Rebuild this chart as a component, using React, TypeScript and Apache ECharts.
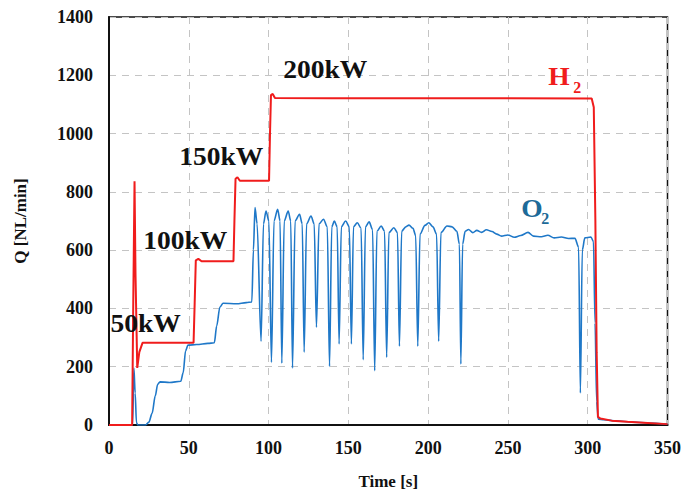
import React, { useEffect, useRef } from "react";
import * as echarts from "echarts";

// H2 flow rate [NL/min] over time [s]
const h2Time = [0, 14.5, 15.2, 16, 16.6, 17.7, 19, 21, 30, 53, 53.7, 54.4, 56, 58, 78, 78.6, 79.3, 80.5, 82, 100.3, 100.9, 101.5, 102.6, 104, 140, 200, 250, 302.5, 303.8, 304.8, 305.6, 306.4, 308, 315, 325, 335, 350];
const h2Flow = [0, 0, 420, 836, 520, 196, 250, 282, 282, 282, 420, 565, 570, 562, 562, 700, 845, 850, 838, 838, 1000, 1132, 1136, 1122, 1121, 1121, 1121, 1120, 1090, 700, 250, 28, 22, 15, 11, 8, 3];

// O2 flow rate [NL/min] over time [s]
const o2Time = [
  0, 14.8, 15.6, 16.4, 17.2, 18, 23, 25, 27, 29, 30.5, 32, 38, 45, 46.5, 48, 49.5, 55, 62, 66, 67.5, 69.5, 71.5, 80, 86, 89.5,
  90.5, 91.5, 92.8, 95.3, 96.8, 98.4, 100.2, 101.8, 103.4, 105.7, 107.2, 108.3, 109.8, 112.3, 113.9, 115.0,
  116.6, 119.4, 121.1, 122.3, 123.8, 126.6, 128.6, 130.0, 131.6, 134.4, 136.8, 138.2, 139.6, 141.2, 143.0, 144.2,
  145.6, 148.3, 150.6, 151.9, 153.2, 155.6, 158.0, 159.3, 160.7, 163.0, 165.2, 166.5, 167.9, 170.6, 172.7, 174.0,
  175.4, 178.5, 180.8, 182.0, 183.4, 186.0, 188.0, 190.5, 192.2, 193.5, 194.9, 198.0, 200.4, 203.0, 205.3, 206.6,
  208.0, 211.8, 215.0, 218.0, 219.6, 220.5, 221.6, 223.2, 225.3, 228.0, 230.5, 233.5, 236.5, 240.0, 243.0, 246.0,
  250.0, 254.0, 258.0, 262.6, 266.0, 271.0, 275.0, 279.0, 283.5, 288.0, 292.0, 294.3, 295.4, 296.6, 298.2, 302.0,
  303.6, 304.6, 305.6, 306.6, 310, 318, 328, 338, 350,
];
const o2Flow = [
  0, 0, 195, 110, 8, 0, 0, 10, 40, 100, 140, 148, 146, 150, 180, 255, 274, 276, 280, 282, 340, 405, 418, 416, 420, 422,
  600, 746, 690, 287, 690, 734, 700, 215, 700, 740, 700, 212, 700, 734, 700, 195,
  700, 723, 690, 250, 690, 717, 690, 335, 690, 706, 680, 201, 680, 700, 680, 278,
  680, 700, 680, 278, 680, 694, 675, 224, 680, 697, 670, 186, 665, 683, 665, 232,
  660, 677, 660, 270, 665, 680, 686, 675, 650, 270, 655, 685, 694, 680, 655, 287,
  660, 683, 680, 665, 620, 209, 620, 665, 671, 660, 668, 661, 670, 664, 655, 648,
  652, 644, 650, 661, 648, 646, 651, 642, 645, 640, 641, 610, 110, 600, 642, 645,
  630, 350, 80, 20, 18, 14, 10, 7, 3,
];

const xTicks = { min: 0, max: 350, step: 50 };
const yTicks = { min: 0, max: 1400, step: 200 };

// Power-step annotations: [time, flow, text]
const powerLabels: [number, number, string][] = [
  [23, 348, "50kW"],
  [47.8, 630, "100kW"],
  [70.3, 921, "150kW"],
  [135.5, 1219, "200kW"],
];

const SERIF = "Liberation Serif";
const H2_COLOR = "#f01c1c";
const O2_COLOR = "#1f78c8";
const O2_TEXT = "#1d6a98";

const zip = (a: number[], b: number[]) => a.map((t, i) => [t, b[i]]);

export default function App() {
  const ref = useRef<HTMLDivElement>(null);

  useEffect(() => {
    if (!ref.current) return;
    const chart = echarts.init(ref.current, undefined, { renderer: "svg" });
    const axisLabel = { fontFamily: SERIF, fontWeight: "bold" as const, fontSize: 18, color: "#111" };
    const splitLine = { show: true, lineStyle: { color: "#c4c4c4", type: [7, 6] as any, width: 1 } };

    chart.setOption({
      animation: false,
      backgroundColor: "#fff",
      grid: { left: 109, right: 14, top: 17, bottom: 70, show: true, borderColor: "#111", borderWidth: 1.5 },
      xAxis: {
        type: "value",
        min: xTicks.min,
        max: xTicks.max,
        interval: xTicks.step,
        name: "Time [s]",
        nameLocation: "middle",
        nameGap: 48,
        nameTextStyle: { fontFamily: SERIF, fontWeight: "bold", fontSize: 17, color: "#111" },
        axisLine: { lineStyle: { color: "#111", width: 2 } },
        axisTick: { show: false },
        axisLabel: { ...axisLabel, margin: 14, formatter: (v: number) => String(v) },
        splitLine,
      },
      yAxis: {
        type: "value",
        min: yTicks.min,
        max: yTicks.max,
        interval: yTicks.step,
        name: "Q [NL/min]",
        nameLocation: "middle",
        nameRotate: 90,
        nameGap: 80,
        nameTextStyle: { fontFamily: SERIF, fontWeight: "bold", fontSize: 17, color: "#111" },
        axisLine: { show: true, lineStyle: { color: "#111", width: 2 } },
        axisTick: { show: false },
        axisLabel: { ...axisLabel, margin: 16, formatter: (v: number) => String(v) },
        splitLine,
      },
      series: [
        {
          name: "O2",
          type: "line",
          data: zip(o2Time, o2Flow),
          showSymbol: false,
          smooth: 0.3,
          smoothMonotone: "x",
          lineStyle: { color: O2_COLOR, width: 1.6 },
          z: 2,
        },
        {
          name: "H2",
          type: "line",
          data: zip(h2Time, h2Flow),
          showSymbol: false,
          lineStyle: { color: H2_COLOR, width: 2 },
          z: 3,
        },
      ],
    });

    const px = (t: number, v: number) => chart.convertToPixel({ gridIndex: 0 }, [t, v]) as number[];
    const textStyle = (text: string, size: number, fill: string, align: string) => ({
      text,
      fontFamily: SERIF,
      fontWeight: "bold",
      fontSize: size,
      fill,
      align,
      verticalAlign: "middle",
    });
    const graphics: any[] = powerLabels.map(([t, v, text]) => {
      const [x, y] = px(t, v);
      return { type: "text", x, y, scaleX: 1.1, z: 10, style: textStyle(text, 25, "#111", "center") };
    });
    const chem = (t: number, v: number, tSub: number, vSub: number, main: string, color: string) => {
      const [x1, y1] = px(t, v);
      const [x2, y2] = px(tSub, vSub);
      graphics.push(
        { type: "text", x: x1, y: y1, scaleX: 1.1, z: 10, style: textStyle(main, 25, color, "left") },
        { type: "text", x: x2, y: y2, z: 10, style: textStyle("2", 16, color, "left") },
      );
    };
    chem(275.3, 1193, 290.9, 1158, "H", H2_COLOR);
    chem(258.4, 740, 270.9, 707, "O", O2_TEXT);
    chart.setOption({ graphic: graphics });

    return () => chart.dispose();
  }, []);

  return <div ref={ref} style={{ width: 684, height: 495, position: "absolute", left: 0, top: 0 }} />;
}
